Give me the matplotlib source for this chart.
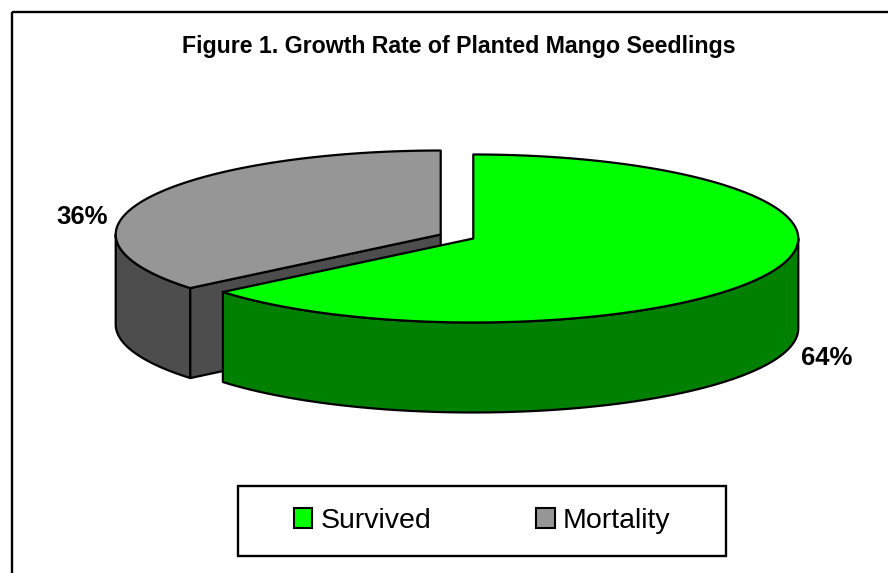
import numpy as np
import matplotlib.pyplot as plt
from matplotlib.patches import Polygon, Rectangle, Patch

# data
labels = ['Survived', 'Mortality']
values = [64, 36]
top_colors = ['#00ff00', '#969696']
side_colors = ['#008000', '#4d4d4d']

plt.rcParams['font.family'] = ['Liberation Sans', 'DejaVu Sans']

fig = plt.figure(figsize=(8.88, 5.73), dpi=100)
ax = fig.add_axes([0, 0, 1, 1])
ax.set_xlim(0, 888)
ax.set_ylim(573, 0)
ax.axis('off')

# chart border (cut off on the right and bottom like the original)
ax.add_patch(Rectangle((12, 12), 950, 650, fill=False, lw=1.7, ec='black'))

ax.text(458.5, 46, 'Figure 1. Growth Rate of Planted Mango Seedlings',
        ha='center', va='center', fontsize=16.7, fontweight='bold')

# 3d pie geometry
cx, cy = 457, 236.5
rx, ry = 325, 84
depth = 90
explode = 18
lw = 1.6


def rim(c, t, dz=0):
    return c[0] + rx * np.cos(t), c[1] - ry * np.sin(t) + dz


slices = []
start = 90.0
for v, tc, sc in zip(values, top_colors, side_colors):
    t1 = start
    t2 = start - v / sum(values) * 360
    mid = np.radians((t1 + t2) / 2)
    c = (cx + explode * np.cos(mid), cy - explode * ry / rx * np.sin(mid))
    slices.append((c, t1, t2, tc, sc))
    start = t2

# back slices first
for c, t1, t2, tc, sc in sorted(slices, key=lambda s: s[0][1]):
    # outer side, front half only
    for k in range(-2, 2):
        a = max(t2, -180 + 360 * k)
        b = min(t1, 360 * k)
        if b > a:
            tt = np.radians(np.linspace(a, b, 80))
            up = [rim(c, t) for t in tt]
            dn = [rim(c, t, depth) for t in tt[::-1]]
            ax.add_patch(Polygon(up + dn, closed=True, fc=sc, ec='black', lw=lw, joinstyle='round'))
    # radial walls facing the viewer
    for t, sgn in ((t1, 1), (t2, -1)):
        if sgn * np.cos(np.radians(t)) < -1e-6:
            r0 = rim(c, np.radians(t))
            r1 = rim(c, np.radians(t), depth)
            ax.add_patch(Polygon([c, r0, r1, (c[0], c[1] + depth)], closed=True,
                                 fc=sc, ec='black', lw=lw, joinstyle='round'))
    # top face
    tt = np.radians(np.linspace(t1, t2, 200))
    ax.add_patch(Polygon([c] + [rim(c, t) for t in tt], closed=True,
                         fc=tc, ec='black', lw=lw, joinstyle='round'))

# percentage labels
label_xy = [(827, 358), (82, 217)]
for v, (lx, ly) in zip(values, label_xy):
    ax.text(lx, ly, f'{v / sum(values) * 100:.0f}%', ha='center', va='center',
            fontsize=18.5, fontweight='bold')

# legend
ax.add_patch(Rectangle((238, 486), 488, 70, fill=False, lw=1.7, ec='black'))
handles = [Patch(fc=tc, ec='black', lw=1.5) for tc in top_colors]
fig.legend(handles, labels, loc='center', bbox_to_anchor=(482 / 888, 1 - 521 / 573),
           ncol=2, frameon=False, fontsize=20.5, handlelength=0.66, handleheight=0.66,
           handletextpad=0.28, columnspacing=3.68)

fig.savefig('out.png', dpi=100)
